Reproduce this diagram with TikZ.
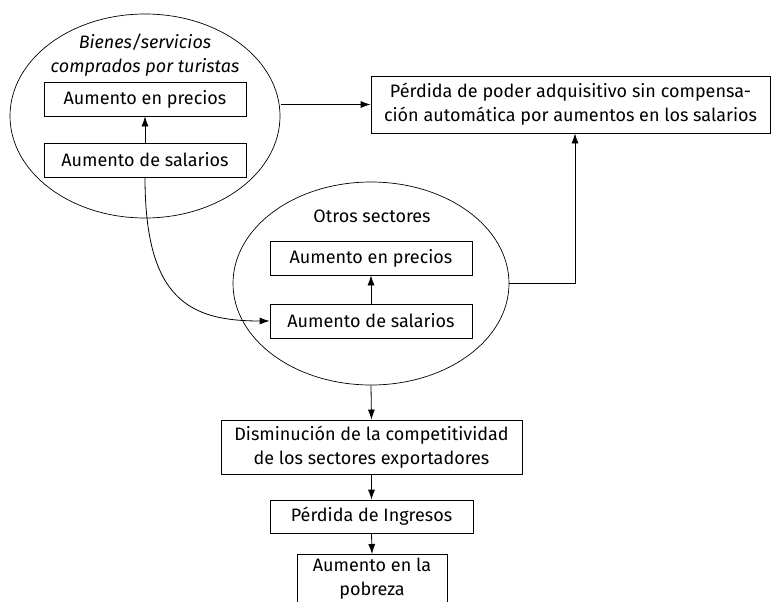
\documentclass[tikz,border=0pt]{standalone}
\usepackage{fontspec}
\setmainfont{Fira Sans}
\usetikzlibrary{arrows.meta,shapes.geometric}
\begin{document}
\begin{tikzpicture}[x=1pt,y=-1pt,
  box/.style={draw,line width=0.8pt,rectangle,inner sep=0pt,align=center,font=\fontsize{18}{24}\selectfont},
  ell/.style={draw,line width=0.7pt,ellipse,inner sep=0pt},
  lbl/.style={inner sep=0pt,align=center,font=\fontsize{18}{24}\selectfont},
  arr/.style={line width=0.8pt,-{Latex[length=10pt,width=7pt]}},
  ln/.style={line width=0.8pt}]
\useasboundingbox (0,0) rectangle (771,602);
\clip (0,0) rectangle (771,602);
% ellipse 1
\node[ell,minimum width=270pt,minimum height=204pt] (e1) at (145,116) {};
\node[lbl,font=\fontsize{18}{24}\selectfont\itshape] (t1) at (145,55) {Bienes/servicios\\comprados por turistas};
\node[box,minimum width=202pt,minimum height=34pt] (p1) at (145,99) {Aumento en precios};
\node[box,minimum width=202pt,minimum height=34pt] (s1) at (145,160) {Aumento de salarios};
\draw[arr] (s1.north) -- (p1.south);
% top right box
\node[box,minimum width=399pt,minimum height=57pt] (pp) at (570.5,104.5) {Pérdida de poder adquisitivo sin compensa-\\ción automática por aumentos en los salarios};
\coordinate (e1r) at (281,104.5);
\draw[arr] (e1r) -- (pp.west);
% ellipse 2
\node[ell,minimum width=276pt,minimum height=203pt] (e2) at (371,283.5) {};
\node[lbl] (t2) at (372,216) {Otros sectores};
\node[box,minimum width=202pt,minimum height=34pt] (p2) at (371,258) {Aumento en precios};
\node[box,minimum width=202pt,minimum height=34pt] (s2) at (371,321) {Aumento de salarios};
\draw[arr] (s2.north) -- (p2.south);
\coordinate (k) at (575,283.5);
\draw[arr] (e2.east) -- (k) -- (pp.south -| k);
% curved
\draw[arr] (s1.south) .. controls (145,300) and (190,321) .. (s2.west);
% bottom chain
\node[box,minimum width=301pt,minimum height=54pt] (d) at (371.5,447) {Disminución de la competitividad\\de los sectores exportadores};
\draw[arr] (e2.south) -- (d.north);
\node[box,minimum width=203pt,minimum height=33pt] (pi) at (371.5,516.5) {Pérdida de Ingresos};
\draw[arr] (d.south) -- (pi.north);
\node[box,minimum width=150pt,minimum height=60pt,anchor=north] (ap) at (372,554) {};
\node[lbl] (apt) at (372,579) {Aumento en la\\pobreza};
\draw[arr] (pi.south) -- (ap.north);
\end{tikzpicture}
\end{document}
